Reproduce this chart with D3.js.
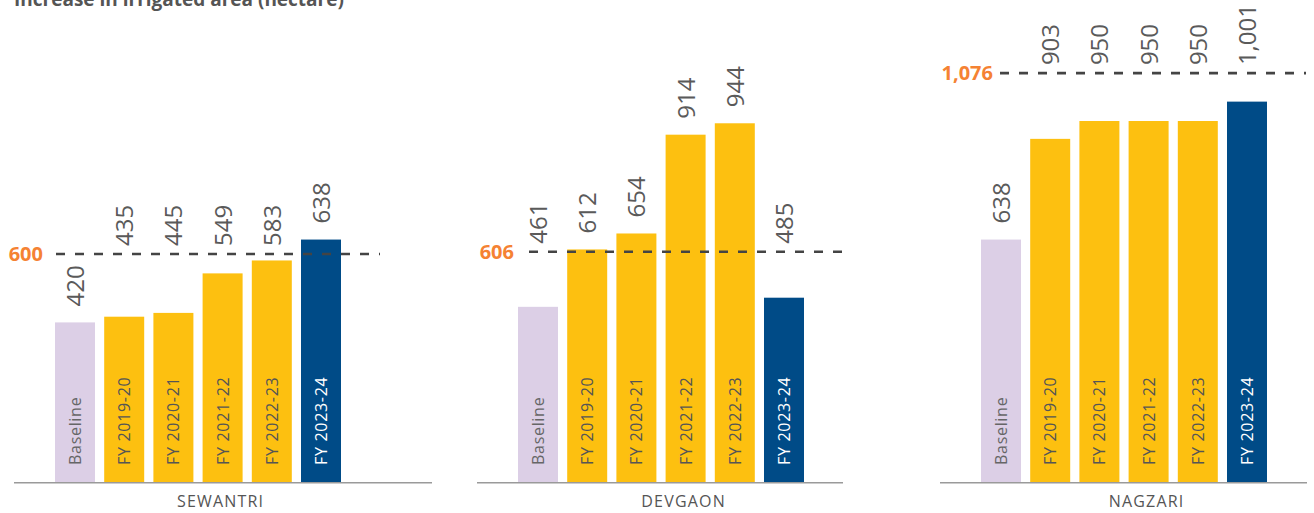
<!doctype html>
<html>
  <head>
    <script src="https://cdnjs.cloudflare.com/ajax/libs/d3/7.8.5/d3.min.js"></script>
    <style>
      body { margin: 0; background: #fff; }
      svg { font-family: "Open Sans", "Noto Sans", sans-serif; }
      text.title { font-weight: 700; font-size: 19px; fill: #555; }
      line.axis { stroke: #9a9a9a; stroke-width: 1.6; }
      line.target { stroke: #444; stroke-width: 2.6; stroke-dasharray: 9 10; }
      text.target { font-weight: 700; font-size: 20px; fill: #f58233; }
      text.value { font-size: 24px; fill: #5a5a5a; }
      text.cat { font-size: 16px; letter-spacing: 0.7px; }
      text.panel { font-size: 16px; letter-spacing: 1.2px; fill: #555; }
    </style>
  </head>
  <body>
    <svg width="1314" height="513"></svg>
    <script>
      // data
      var panels = ["SEWANTRI", "DEVGAON", "NAGZARI"];
      var categories = ["Baseline", "FY 2019-20", "FY 2020-21", "FY 2021-22", "FY 2022-23", "FY 2023-24"];
      var sewantriValues = [420, 435, 445, 549, 583, 638];
      var devgaonValues = [461, 612, 654, 914, 944, 485];
      var nagzariValues = [638, 903, 950, 950, 950, 1001];
      var targets = [600, 606, 1076];

      var seriesValues = [sewantriValues, devgaonValues, nagzariValues];

      // layout of each panel
      var panelX = [55, 518, 981];
      var axisExtent = [[-41, 377], [-41, 325], [-41, 326]];
      var dashStart = [1, 11, 19];
      var targetLabelEnd = [-12, -4, 12];

      var svg = d3.select("svg");

      svg.append("text")
        .attr("class", "title")
        .attr("x", 14)
        .attr("y", 6)
        .text("Increase in irrigated area (hectare)");

      var x = d3.scaleBand()
        .domain(categories)
        .range([0, 286])
        .paddingInner(0.187)
        .paddingOuter(0);

      var y = d3.scaleLinear()
        .domain([0, 1100])
        .range([482, 64]);

      var fillColor = d3.scaleOrdinal()
        .domain(categories)
        .range(["#dccfe6", "#fdc010", "#fdc010", "#fdc010", "#fdc010", "#004b87"]);
      var textColor = d3.scaleOrdinal()
        .domain(categories)
        .range(["#666", "#555", "#555", "#555", "#555", "#fff"]);

      var fmt = d3.format(",");

      panels.forEach(function(name, p) {
        var rows = categories.map(function(c, i) { return { cat: c, value: seriesValues[p][i] }; });
        var g = svg.append("g").attr("transform", "translate(" + panelX[p] + ",0)");

        g.selectAll("rect.bar").data(rows)
          .enter()
          .append("rect")
            .attr("class", "bar")
            .attr("x", d => x(d.cat))
            .attr("width", x.bandwidth())
            .attr("y", d => y(d.value))
            .attr("height", d => y(0) - y(d.value))
            .attr("fill", d => fillColor(d.cat));

        g.append("line")
          .attr("class", "axis")
          .attr("x1", axisExtent[p][0])
          .attr("x2", axisExtent[p][1])
          .attr("y1", y(0) + 0.8)
          .attr("y2", y(0) + 0.8);

        g.selectAll("text.cat").data(rows)
          .enter()
          .append("text")
            .attr("class", "cat")
            .attr("transform", d => "translate(" + (x(d.cat) + x.bandwidth() / 2 + 6) + "," + (y(0) - 17) + ") rotate(-90)")
            .attr("fill", d => textColor(d.cat))
            .text(d => d.cat);

        // dashed target line
        var ty = y(targets[p]);
        g.append("line")
          .attr("class", "target")
          .attr("x1", dashStart[p])
          .attr("x2", x.range()[1] + 39)
          .attr("y1", ty)
          .attr("y2", ty);

        g.append("text")
          .attr("class", "target")
          .attr("x", targetLabelEnd[p])
          .attr("y", ty + 7)
          .attr("text-anchor", "end")
          .text(fmt(targets[p]));

        // value labels sit above the bar, lifted over the dashed line when there is no room under it
        g.selectAll("text.value").data(rows)
          .enter()
          .append("text")
            .attr("class", "value")
            .text(d => fmt(d.value))
            .attr("transform", function(d) {
              var room = y(d.value) - ty;
              var bottom = y(d.value) - 16;
              if (room > 0 && room < 67) bottom = ty - 8;
              return "translate(" + (x(d.cat) + x.bandwidth() / 2 + 9) + "," + bottom + ") rotate(-90)";
            });

        g.append("text")
          .attr("class", "panel")
          .attr("x", x(categories[3]) + x.bandwidth() / 2 - 2)
          .attr("y", 507)
          .attr("text-anchor", "middle")
          .text(name);
      });
    </script>
  </body>
</html>
